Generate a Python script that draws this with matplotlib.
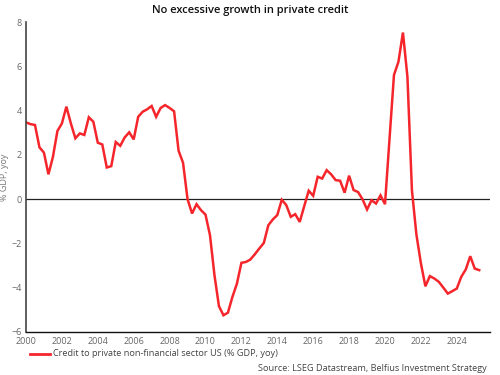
import matplotlib
matplotlib.use("Agg")
import matplotlib.pyplot as plt
import numpy as np

plt.rcParams['font.family'] = ['Open Sans', 'DejaVu Sans']

start_year = 2000.0
values = [3.47, 3.39, 3.35, 2.34, 2.10, 1.12, 1.91, 3.08, 3.42, 4.18,
          3.42, 2.75, 2.97, 2.90, 3.70, 3.50, 2.55, 2.47, 1.43, 1.49,
          2.58, 2.41, 2.79, 3.02, 2.70, 3.72, 3.95, 4.06, 4.21, 3.72,
          4.12, 4.25, 4.12, 3.97, 2.19, 1.64, 0.00, -0.65, -0.23, -0.50,
          -0.70, -1.63, -3.44, -4.84, -5.25, -5.13, -4.42, -3.82, -2.88, -2.84,
          -2.73, -2.49, -2.23, -1.98, -1.18, -0.92, -0.72, -0.03, -0.27, -0.80,
          -0.68, -1.03, -0.32, 0.38, 0.15, 1.01, 0.93, 1.31, 1.12, 0.86,
          0.83, 0.29, 1.06, 0.41, 0.32, -0.01, -0.47, -0.05, -0.20, 0.17,
          -0.23, 2.70, 5.61, 6.21, 7.53, 5.53, 0.40, -1.60, -2.90, -3.94,
          -3.48, -3.59, -3.74, -4.00, -4.27, -4.16, -4.04, -3.51, -3.18, -2.58,
          -3.14, -3.21]
dates = start_year + 0.25 * np.arange(len(values))

x_ticks = list(range(2000, 2025, 2))
y_ticks = list(range(-6, 9, 2))

title = "No excessive growth in private credit"
series_label = "Credit to private non-financial sector US (% GDP, yoy)"
y_label = "% GDP, yoy"
source = "Source: LSEG Datastream, Belfius Investment Strategy"

fig = plt.figure(figsize=(5, 3.75), dpi=100)
ax = fig.add_axes([0.052, 0.115, 0.928, 0.826])

ax.plot(dates, values, color='#f5262b', lw=1.8, solid_joinstyle='miter')
ax.axhline(0, color='#222222', lw=0.9, zorder=1)

ax.set_xlim(2000, 2025.85)
ax.set_ylim(-6, 8)
ax.set_xticks(x_ticks)
ax.set_yticks(y_ticks)
ax.tick_params(axis='both', length=0, labelsize=6.5, labelcolor='#666666')
ax.tick_params(axis='x', pad=3.5)
ax.tick_params(axis='y', pad=3)
for s in ['top', 'right']:
    ax.spines[s].set_visible(False)
ax.spines['left'].set_color('#444444')
ax.spines['left'].set_linewidth(1.2)
ax.spines['bottom'].set_color('#111111')
ax.spines['bottom'].set_linewidth(1.0)
ax.set_ylabel(y_label, fontsize=6.5, color='#777777')
ax.yaxis.set_label_coords(-0.036, 0.5)

fig.text(0.5, 0.973, title, ha='center', va='center', fontsize=8, fontweight='semibold', color='#111111')

fig.lines.append(plt.Line2D([0.06, 0.1], [0.056, 0.056], transform=fig.transFigure, color='#f5262b', lw=2))
fig.text(0.106, 0.056, series_label, ha='left', va='center', fontsize=6.6, color='#444444')
fig.text(0.974, 0.018, source, ha='right', va='center', fontsize=6.6, color='#444444')

fig.savefig('out.png', dpi=100)
